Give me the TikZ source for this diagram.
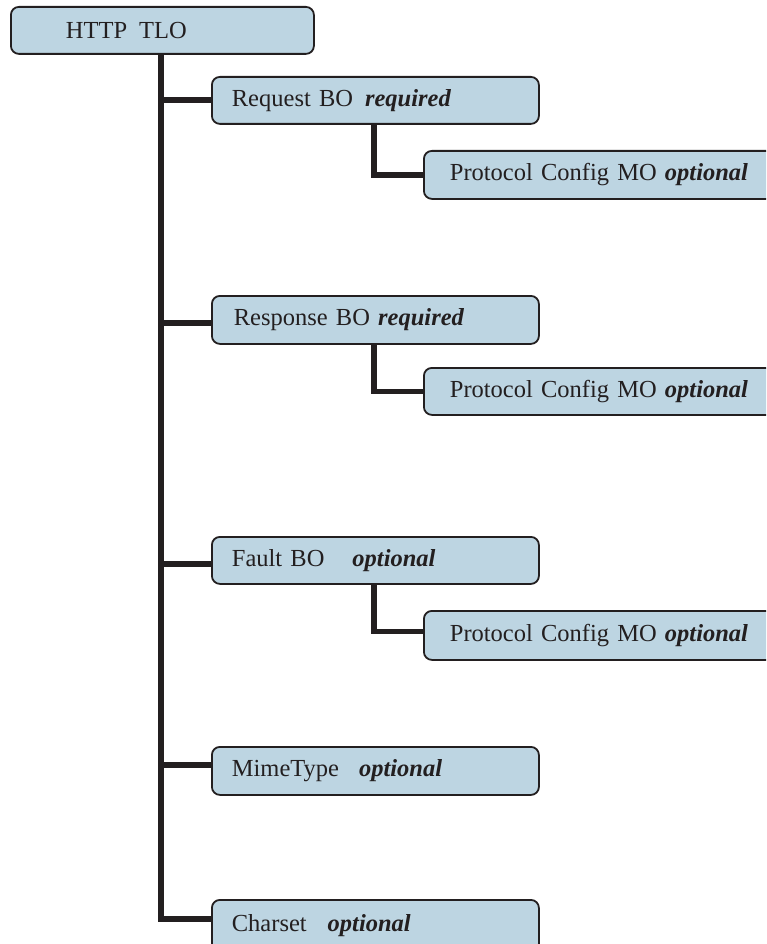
\documentclass[tikz,border=0pt]{standalone}
\usepackage{fontspec}
\setmainfont{Liberation Serif}
\definecolor{boxfill}{HTML}{BDD5E2}
\definecolor{ink}{HTML}{231F20}
\begin{document}
\begin{tikzpicture}[x=1pt,y=-1pt,
  boxstyle/.style={draw=ink, fill=boxfill, line width=1.8pt, rounded corners=8pt,
    minimum height=47pt, inner xsep=0pt, inner ysep=0pt, anchor=north west, align=left,
    font=\fontsize{24.5}{29}\selectfont, text=ink},
  conn/.style={draw=ink, line width=6pt, line join=miter},
  subconn/.style={draw=ink, line width=5.5pt, line join=miter}]
\useasboundingbox (0,0) rectangle (766,944);
\begin{scope}
\clip (0,0) rectangle (766,944);
\coordinate (trunk) at (161,0);
\coordinate (sub) at (374,0);
\node[boxstyle, text width=303pt] (tlo) at (10,6) {\hspace*{55pt}HTTP\hspace{12pt}TLO};
\node[boxstyle, text width=327pt] (req) at (211,76) {\hspace*{20pt}Request BO\hspace{12pt}\textbf{\textit{required}}};
\node[boxstyle, text width=370pt, minimum height=48pt] (p1) at (423,150) {\hspace*{26pt}Protocol Config MO \textbf{\textit{optional}}};
\node[boxstyle, text width=327pt, minimum height=48pt] (resp) at (211,295) {\hspace*{22pt}Response BO \textbf{\textit{required}}};
\node[boxstyle, text width=370pt] (p2) at (423,367) {\hspace*{26pt}Protocol Config MO \textbf{\textit{optional}}};
\node[boxstyle, text width=327pt] (fault) at (211,536) {\hspace*{20pt}Fault BO\hspace{28pt}\textbf{\textit{optional}}};
\node[boxstyle, text width=370pt, minimum height=49pt] (p3) at (423,610) {\hspace*{26pt}Protocol Config MO \textbf{\textit{optional}}};
\node[boxstyle, text width=327pt, minimum height=48pt] (mime) at (211,746) {\hspace*{20pt}MimeType\hspace{20pt}\textbf{\textit{optional}}};
\node[boxstyle, text width=327pt, minimum height=52pt] (charset) at (211,899) {\hspace*{20pt}Charset\hspace{21pt}\textbf{\textit{optional}}};
% trunk and branches
\draw[conn] (tlo.south -| trunk) -- ([yshift=7pt]trunk |- charset.west) -- ([yshift=7pt]charset.west);
\draw[conn] (trunk |- req.west) -- (req.west);
\draw[conn] ([yshift=-3pt]trunk |- resp.west) -- ([yshift=-3pt]resp.west);
\draw[conn] ([yshift=-3.5pt]trunk |- fault.west) -- ([yshift=-3.5pt]fault.west);
\draw[conn] ([yshift=6pt]trunk |- mime.west) -- ([yshift=6pt]mime.west);
% sub branches
\draw[subconn] (sub |- req.south) -- (sub |- p1.west) -- (p1.west);
\draw[subconn] (sub |- resp.south) -- (sub |- p2.west) -- (p2.west);
\draw[subconn] (sub |- fault.south) -- ([yshift=4pt]sub |- p3.west) -- ([yshift=4pt]p3.west);
\end{scope}
\end{tikzpicture}
\end{document}
